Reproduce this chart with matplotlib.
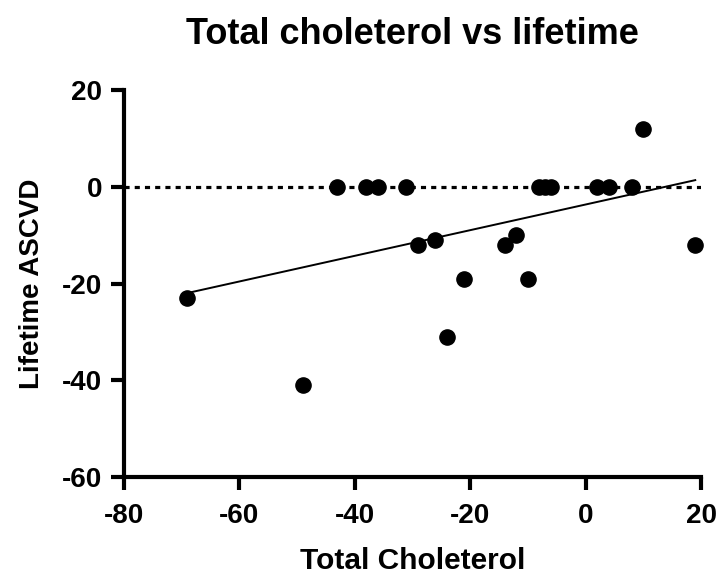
import numpy as np
import matplotlib.pyplot as plt

plt.rcParams["font.family"] = ["Liberation Sans", "DejaVu Sans"]
plt.rcParams["font.weight"] = "bold"
plt.rcParams["axes.unicode_minus"] = False

# change in total cholesterol vs change in lifetime ASCVD risk
total_chol = [-69, -49, -43, -38, -36, -31, -29, -26, -24, -21,
              -14, -12, -10, -8, -7, -6, 2, 4, 8, 10, 19]
lifetime_ascvd = [-23, -41, 0, 0, 0, 0, -12, -11, -31, -19,
                  -12, -10, -19, 0, 0, 0, 0, 0, 0, 12, -12]

x = np.array(total_chol, dtype=float)
y = np.array(lifetime_ascvd, dtype=float)

fig = plt.figure(figsize=(7.21, 5.78), dpi=100)
ax = fig.add_axes([0.1713, 0.1747, 0.801, 0.6696])

ax.axhline(0, color="black", linestyle=(0, (1.6, 1.6)), linewidth=2.3, zorder=1)

# simple linear fit over the range of the data
slope, intercept = np.polyfit(x, y, 1)
xf = np.array([x.min(), x.max()])
ax.plot(xf, slope * xf + intercept, color="black", linewidth=1.4, zorder=2)

ax.scatter(x, y, s=120, color="black", zorder=3, clip_on=False)

ax.set_xlim(-80, 20)
ax.set_ylim(-60, 20)
ax.set_xticks([-80, -60, -40, -20, 0, 20])
ax.set_yticks([-60, -40, -20, 0, 20])

for side in ["top", "right"]:
    ax.spines[side].set_visible(False)
for side in ["left", "bottom"]:
    ax.spines[side].set_linewidth(3)
ax.tick_params(width=3, length=9.5, labelsize=20)
ax.tick_params(axis="x", pad=9.5)
ax.tick_params(axis="y", pad=6)
for lab in ax.get_xticklabels() + ax.get_yticklabels():
    lab.set_fontweight("bold")

ax.set_title("Total choleterol vs lifetime", fontsize=26, fontweight="bold", pad=33)
ax.set_xlabel("Total Choleterol", fontsize=21.5, fontweight="bold", labelpad=13)
ax.set_ylabel("Lifetime ASCVD", fontsize=20, fontweight="bold", labelpad=12)

fig.savefig("out.png", dpi=100)
